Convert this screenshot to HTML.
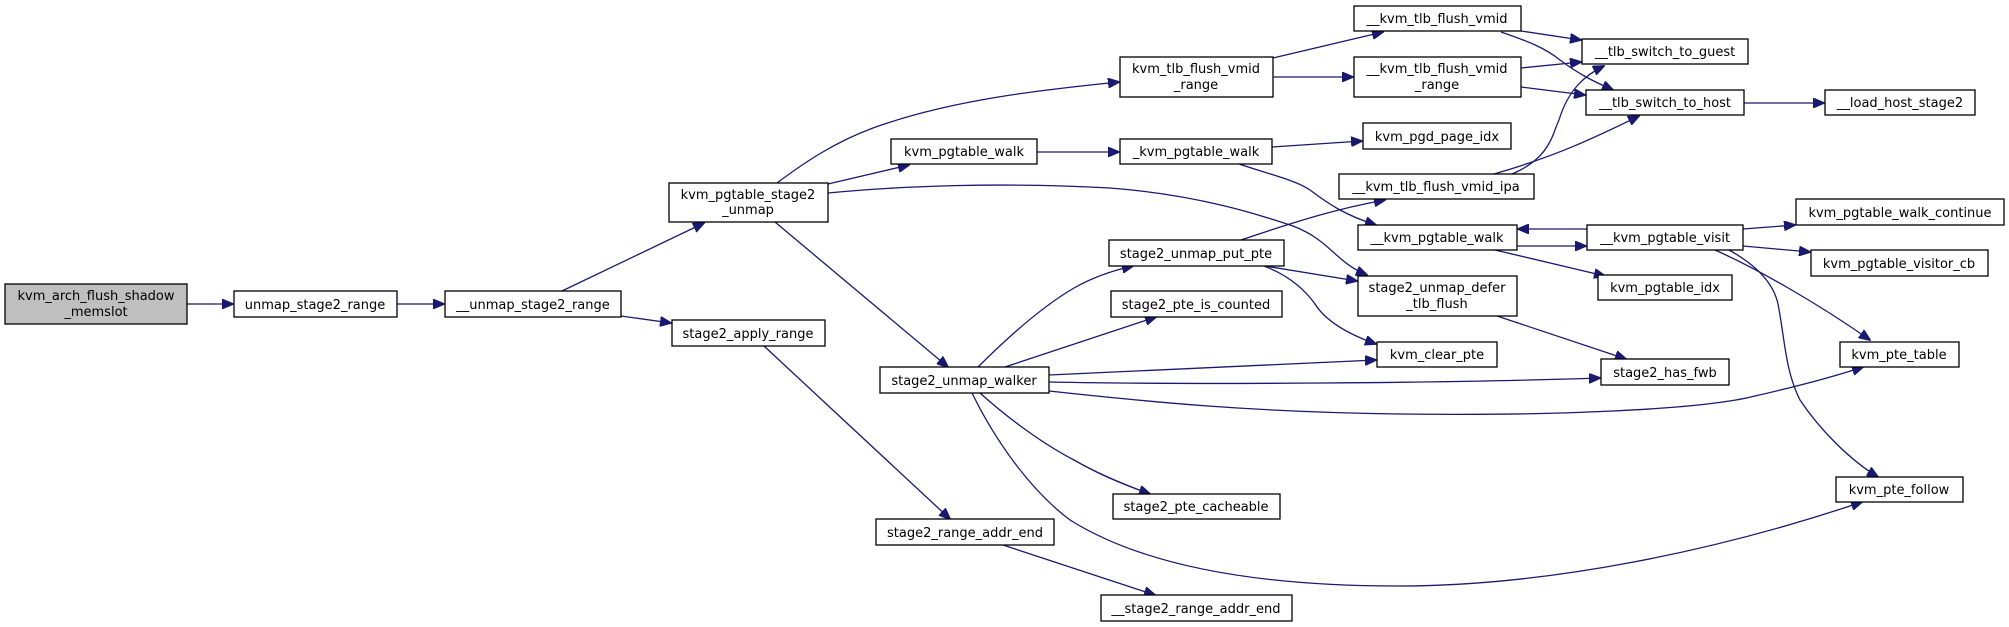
<!DOCTYPE html>
<html><head><meta charset="utf-8"><style>
html,body{margin:0;padding:0;background:#fff;}
svg{display:block;}
text{font-family:"DejaVu Sans","Liberation Sans",sans-serif;font-size:13px;fill:#000;}
.n{fill:#fff;stroke:#000;stroke-width:1.3;}
.e{fill:none;stroke:#191970;stroke-width:1.3;marker-end:url(#a);}
</style></head><body>
<svg width="2009" height="627" viewBox="0 0 2009 627" xmlns="http://www.w3.org/2000/svg">
<defs><marker id="a" markerUnits="userSpaceOnUse" markerWidth="12" markerHeight="10" refX="11" refY="5" orient="auto"><path d="M0,0 L12,5 L0,10 Z" fill="#191970" stroke="#191970"/></marker></defs>
<g>
<path class="e" d="M187,304 L233,304"/>
<path class="e" d="M397,304 L444,304"/>
<path class="e" d="M562,291 L704,223"/>
<path class="e" d="M621,316 L671,323"/>
<path class="e" d="M777,183 C805,162 835,142 873,128 C950,100 1040,90 1119,82"/>
<path class="e" d="M828,184 L909,165"/>
<path class="e" d="M828,193 C900,186 1000,182 1110,188 C1200,195 1260,215 1293,226 C1330,240 1335,262 1367,275"/>
<path class="e" d="M1037,152 L1119,152"/>
<path class="e" d="M1272,147 L1362,141"/>
<path class="e" d="M1239,164 C1275,176 1295,180 1310,190 C1330,205 1345,215 1376,225"/>
<path class="e" d="M1273,58 L1383,32"/>
<path class="e" d="M1273,77 L1353,77"/>
<path class="e" d="M1521,31 L1581,40"/>
<path class="e" d="M1501,32 C1530,42 1545,48 1560,60 C1580,75 1595,82 1613,90"/>
<path class="e" d="M1521,68 L1581,62"/>
<path class="e" d="M1521,87 L1585,95"/>
<path class="e" d="M1744,103 L1824,103"/>
<path class="e" d="M1494,174 C1560,155 1600,135 1639,116"/>
<path class="e" d="M1512,174 C1550,158 1552,135 1559,120 C1568,90 1585,75 1604,66"/>
<path class="e" d="M1241,240 C1300,220 1340,208 1385,200"/>
<path class="e" d="M1265,266 L1357,281"/>
<path class="e" d="M1264,266 C1290,276 1305,290 1315,304 C1325,320 1345,333 1376,344"/>
<path class="e" d="M1517,246 L1586,246"/>
<path class="e" d="M1587,229 L1518,229"/>
<path class="e" d="M1495,250 L1605,276"/>
<path class="e" d="M1743,229 L1795,225"/>
<path class="e" d="M1743,246 L1810,252"/>
<path class="e" d="M1715,250 C1760,270 1820,305 1870,340"/>
<path class="e" d="M1729,250 C1765,270 1775,290 1778,304 C1785,340 1785,370 1800,400 C1820,430 1850,460 1878,477"/>
<path class="e" d="M1497,316 L1626,359"/>
<path class="e" d="M978,367 C1010,335 1045,305 1074,288 C1095,276 1115,270 1133,266"/>
<path class="e" d="M1005,367 L1156,317"/>
<path class="e" d="M1049,375 L1376,360"/>
<path class="e" d="M1049,382 C1200,385 1450,383 1600,378"/>
<path class="e" d="M1049,391 C1150,402 1250,412 1400,414 C1550,416 1700,410 1755,396 C1790,388 1830,378 1863,367"/>
<path class="e" d="M980,393 C1010,420 1045,445 1074,460 C1100,475 1125,485 1150,494"/>
<path class="e" d="M972,393 C995,440 1030,490 1070,520 C1150,570 1270,586 1398,586 C1550,586 1720,550 1862,502"/>
<path class="e" d="M775,222 L948,367"/>
<path class="e" d="M764,346 L950,519"/>
<path class="e" d="M1003,545 L1155,595"/>
</g>
<rect x="5" y="284" width="182" height="40" style="fill:#bfbfbf;stroke:#000;stroke-width:1.3"/>
<text x="96" y="300" text-anchor="middle">kvm_arch_flush_shadow</text><text x="96" y="316" text-anchor="middle">_memslot</text>
<rect class="n" x="234" y="291" width="163" height="26"/><text x="315" y="309" text-anchor="middle">unmap_stage2_range</text>
<rect class="n" x="445" y="291" width="176" height="26"/><text x="533" y="309" text-anchor="middle">__unmap_stage2_range</text>
<rect class="n" x="669" y="183" width="159" height="39"/><text x="748" y="199" text-anchor="middle">kvm_pgtable_stage2</text><text x="748" y="214" text-anchor="middle">_unmap</text>
<rect class="n" x="672" y="320" width="153" height="26"/><text x="748" y="338" text-anchor="middle">stage2_apply_range</text>
<rect class="n" x="891" y="139" width="146" height="25"/><text x="964" y="156" text-anchor="middle">kvm_pgtable_walk</text>
<rect class="n" x="1120" y="57" width="153" height="40"/><text x="1196" y="73" text-anchor="middle">kvm_tlb_flush_vmid</text><text x="1196" y="89" text-anchor="middle">_range</text>
<rect class="n" x="1120" y="139" width="152" height="25"/><text x="1196" y="156" text-anchor="middle">_kvm_pgtable_walk</text>
<rect class="n" x="1109" y="240" width="175" height="26"/><text x="1196" y="258" text-anchor="middle">stage2_unmap_put_pte</text>
<rect class="n" x="1111" y="291" width="171" height="26"/><text x="1196" y="309" text-anchor="middle">stage2_pte_is_counted</text>
<rect class="n" x="880" y="367" width="169" height="26"/><text x="964" y="385" text-anchor="middle">stage2_unmap_walker</text>
<rect class="n" x="1113" y="494" width="167" height="25"/><text x="1196" y="511" text-anchor="middle">stage2_pte_cacheable</text>
<rect class="n" x="876" y="519" width="178" height="26"/><text x="965" y="537" text-anchor="middle">stage2_range_addr_end</text>
<rect class="n" x="1101" y="595" width="191" height="26"/><text x="1196" y="613" text-anchor="middle">__stage2_range_addr_end</text>
<rect class="n" x="1354" y="6" width="167" height="25"/><text x="1437" y="23" text-anchor="middle">__kvm_tlb_flush_vmid</text>
<rect class="n" x="1582" y="39" width="166" height="25"/><text x="1665" y="56" text-anchor="middle">__tlb_switch_to_guest</text>
<rect class="n" x="1354" y="57" width="167" height="40"/><text x="1437" y="73" text-anchor="middle">__kvm_tlb_flush_vmid</text><text x="1437" y="89" text-anchor="middle">_range</text>
<rect class="n" x="1586" y="90" width="158" height="25"/><text x="1665" y="107" text-anchor="middle">__tlb_switch_to_host</text>
<rect class="n" x="1825" y="90" width="150" height="25"/><text x="1900" y="107" text-anchor="middle">__load_host_stage2</text>
<rect class="n" x="1363" y="123" width="148" height="26"/><text x="1437" y="141" text-anchor="middle">kvm_pgd_page_idx</text>
<rect class="n" x="1339" y="174" width="195" height="25"/><text x="1436" y="191" text-anchor="middle">__kvm_tlb_flush_vmid_ipa</text>
<rect class="n" x="1796" y="199" width="208" height="26"/><text x="1900" y="217" text-anchor="middle">kvm_pgtable_walk_continue</text>
<rect class="n" x="1358" y="225" width="159" height="25"/><text x="1437" y="242" text-anchor="middle">__kvm_pgtable_walk</text>
<rect class="n" x="1587" y="225" width="156" height="25"/><text x="1665" y="242" text-anchor="middle">__kvm_pgtable_visit</text>
<rect class="n" x="1811" y="250" width="177" height="26"/><text x="1899" y="268" text-anchor="middle">kvm_pgtable_visitor_cb</text>
<rect class="n" x="1598" y="275" width="134" height="25"/><text x="1665" y="292" text-anchor="middle">kvm_pgtable_idx</text>
<rect class="n" x="1358" y="276" width="159" height="40"/><text x="1437" y="292" text-anchor="middle">stage2_unmap_defer</text><text x="1437" y="308" text-anchor="middle">_tlb_flush</text>
<rect class="n" x="1840" y="342" width="119" height="25"/><text x="1899" y="359" text-anchor="middle">kvm_pte_table</text>
<rect class="n" x="1377" y="342" width="120" height="25"/><text x="1437" y="359" text-anchor="middle">kvm_clear_pte</text>
<rect class="n" x="1601" y="359" width="128" height="26"/><text x="1665" y="377" text-anchor="middle">stage2_has_fwb</text>
<rect class="n" x="1836" y="477" width="127" height="25"/><text x="1899" y="494" text-anchor="middle">kvm_pte_follow</text>
</svg>
</body></html>
